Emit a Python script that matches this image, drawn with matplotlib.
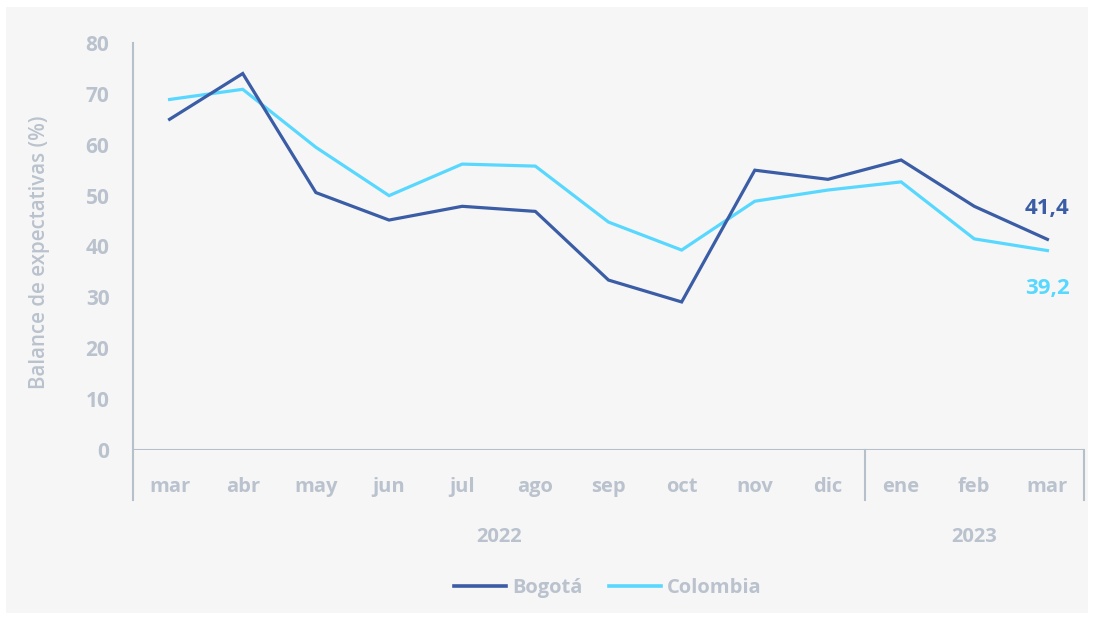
import numpy as np
import matplotlib
matplotlib.use("Agg")
import matplotlib.pyplot as plt
from matplotlib.patches import Rectangle

months = ['mar', 'abr', 'may', 'jun', 'jul', 'ago', 'sep', 'oct', 'nov', 'dic', 'ene', 'feb', 'mar']
years = ['2022', '2023']
bogota = [65.0, 74.0, 50.6, 45.2, 47.9, 46.9, 33.4, 29.1, 55.0, 53.2, 57.0, 47.9, 41.4]
colombia = [68.9, 70.9, 59.5, 50.0, 56.2, 55.8, 44.8, 39.3, 48.9, 51.1, 52.7, 41.5, 39.2]

c_bog = '#3a5da5'
c_col = '#58d8ff'
gray = '#b9c2cd'
axis_gray = '#b6c0cb'

plt.rcParams['font.family'] = ['Open Sans', 'DejaVu Sans']

fig = plt.figure(figsize=(10.94, 6.2), dpi=100)
fig.patch.set_facecolor('white')
fig.patches.append(Rectangle((6 / 1094, 7 / 620), 1082 / 1094, 606 / 620,
                             transform=fig.transFigure, facecolor='#f6f6f6',
                             edgecolor='none', zorder=-10))

ax = fig.add_axes([133 / 1094, 170 / 620, 951 / 1094, 407 / 620])
ax.set_facecolor('none')

x = np.arange(len(months))
ax.plot(x, bogota, color=c_bog, lw=2.3, solid_joinstyle='miter', label='Bogotá', zorder=3)
ax.plot(x, colombia, color=c_col, lw=2.3, solid_joinstyle='miter', label='Colombia', zorder=2)

ax.set_xlim(-0.5, 12.5)
ax.set_ylim(0, 80)
for s in ax.spines.values():
    s.set_visible(False)

ax.set_yticks(range(0, 81, 10))
ax.tick_params(axis='y', length=0, pad=17, labelsize=15, labelcolor=gray)
ax.set_xticks(x)
ax.set_xticklabels(months)
ax.tick_params(axis='x', length=0, pad=19.5, labelsize=14.5, labelcolor=gray)
for lab in ax.get_xticklabels() + ax.get_yticklabels():
    lab.set_fontweight('bold')

# axis lines and year separators
ax.axhline(0, color=axis_gray, lw=1.5, zorder=1)
below = -50 / 407
ax.plot([0, 0], [1, below], transform=ax.transAxes, color=axis_gray, lw=1.5, clip_on=False)
trans = ax.get_xaxis_transform()
for xs in [9.5, 12.5]:
    ax.plot([xs, xs], [0, below], transform=trans, color=axis_gray, lw=1.5, clip_on=False)

ax.text(4.5, -87 / 407, years[0], transform=trans, ha='center', va='center',
        fontsize=14.5, fontweight='bold', color=gray)
ax.text(11, -87 / 407, years[1], transform=trans, ha='center', va='center',
        fontsize=14.5, fontweight='bold', color=gray)

# end labels
ax.annotate(f"{bogota[-1]:.1f}".replace('.', ','), (x[-1], bogota[-1]), xytext=(0, 22),
            textcoords='offset points', ha='center', va='center', fontsize=16,
            fontweight='bold', color=c_bog)
ax.annotate(f"{colombia[-1]:.1f}".replace('.', ','), (x[-1], colombia[-1]), xytext=(0, -27),
            textcoords='offset points', ha='center', va='center', fontsize=16,
            fontweight='bold', color=c_col)

fig.text(40 / 1094, 1 - 252 / 620, 'Balance de expectativas (%)', rotation=90,
         ha='center', va='center', fontsize=14.8, fontweight='semibold', color=gray)

leg = fig.legend(loc='center', bbox_to_anchor=(608 / 1094, 1 - 588 / 620), ncol=2,
                 frameon=False, fontsize=14.5, handlelength=2.6, handletextpad=0.3,
                 columnspacing=1.3)
for t in leg.get_texts():
    t.set_color(gray)
    t.set_fontweight('bold')
for h in leg.get_lines():
    h.set_linewidth(2.6)

fig.savefig('out.png', dpi=100, facecolor=fig.get_facecolor())
